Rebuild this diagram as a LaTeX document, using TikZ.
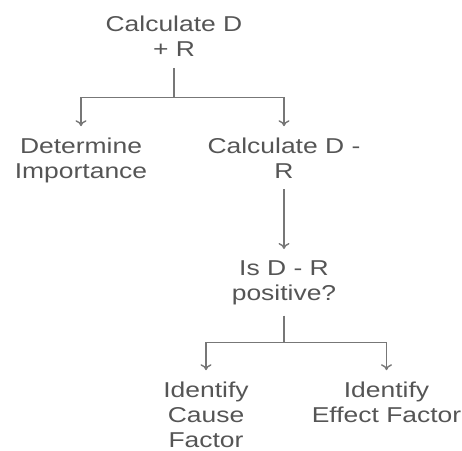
\documentclass[tikz,border=0pt]{standalone}
\usepackage{fontspec}
\setmainfont[FakeStretch=1.23]{Liberation Sans}
\usetikzlibrary{positioning,arrows.meta}

\definecolor{txtgray}{HTML}{555555}
\definecolor{linegray}{HTML}{777777}

\tikzset{
  stepnode/.style={align=center, inner xsep=0pt, inner ysep=11pt,
    text=txtgray, font=\fontsize{21.5pt}{25pt}\selectfont},
  link/.style={draw=linegray, line width=1.4pt},
  arrowlink/.style={link, -{To[length=6pt,width=11pt]}}
}

\begin{document}
\begin{tikzpicture}[x=1pt,y=1pt]
\useasboundingbox (0,0) rectangle (462,-450);

% last baseline of each row
\def\ya{-56.7}
\def\yb{-178}
\def\yc{-300}
\def\yd{-422}

\node[stepnode, anchor=base] (top) at (174, \ya) {Calculate D\\+ R};
\node[stepnode, anchor=base] (imp) at (81, \yb) {Determine\\Importance};
\node[stepnode, anchor=base] (diff) at (284, \yb) {Calculate D -\\R};
\node[stepnode, anchor=base] (pos) at (284, \yc) {Is D - R\\positive?};
\node[stepnode, anchor=base] (cause) at (206, \yd-25) {Identify\\Cause\\Factor};
\node[stepnode, anchor=base] (effect) at (386.5, \yd) {Identify\\Effect Factor};

\coordinate (ja) at (174, -97.7);
\coordinate (jb) at (284, -342.7);

\draw[link] (top.south) -- (ja);
\draw[arrowlink] (ja) -| (imp.north);
\draw[arrowlink] (ja) -| (diff.north);
\draw[arrowlink] (diff.south) -- (pos.north);
\draw[link] (pos.south) -- (jb);
\draw[arrowlink] (jb) -| (cause.north);
\draw[arrowlink] (jb) -| (effect.north);

\end{tikzpicture}
\end{document}
